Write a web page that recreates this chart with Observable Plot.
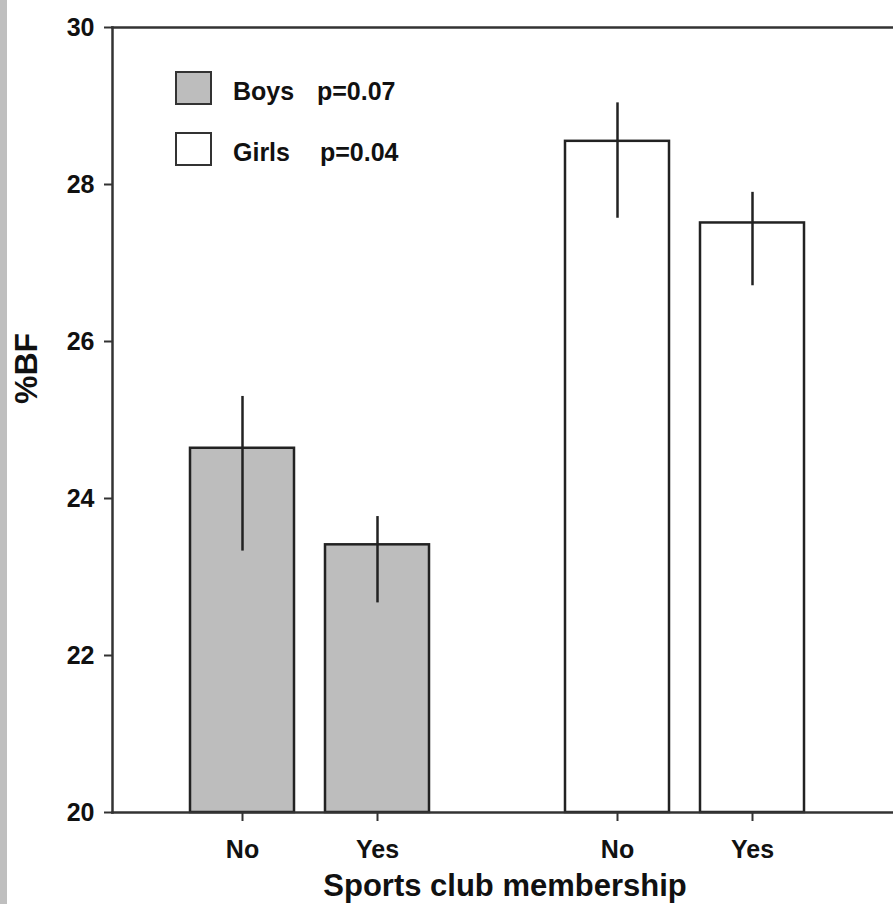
<!DOCTYPE html>
<html><head><meta charset="utf-8">
<script src="https://cdn.jsdelivr.net/npm/d3@7"></script>
<script src="https://cdn.jsdelivr.net/npm/@observablehq/plot@0.6"></script>
<style>
body{margin:0;background:#fff;font-family:"Liberation Sans",Arial,sans-serif;}
#wrap{position:relative;width:893px;height:904px;overflow:hidden;background:#fff;}
#strip{position:absolute;left:0;top:0;width:7px;height:904px;background:#bfbfbf;z-index:4;}
#chart,#overlay{position:absolute;left:0;top:0;}
#overlay{z-index:2;pointer-events:none;}
#legend{position:absolute;left:0;top:0;z-index:3;font-weight:bold;font-size:25px;color:#111;}
.row{position:absolute;left:175px;height:34px;width:300px;}
.sw{position:absolute;left:0;top:0;width:33px;height:30px;border:2px solid #333;}
.nm{position:absolute;left:58px;top:8px;line-height:25px;}
.pv{position:absolute;top:8px;line-height:25px;}
</style></head><body>
<div id="wrap"><div id="strip"></div><div id="chart"></div><div id="overlay"></div><div id="legend"></div></div>
<script>
const sexes = ["Boys", "Girls"];
const membership = ["No", "Yes"];
const means = [[24.64, 23.41], [28.55, 27.51]];
const lows  = [[23.33, 22.67], [27.57, 26.71]];
const highs = [[25.30, 23.77], [29.04, 27.90]];
const pValues = ["p=0.07", "p=0.04"];
const fills = ["#bdbdbd", "#ffffff"];
const yDomain = [20, 30];
const yTicks = [20, 22, 24, 26, 28, 30];
const yTitle = "%BF";
const xTitle = "Sports club membership";

const data = sexes.flatMap((s, i) => membership.map((m, j) => ({
  sex: s, club: m, mean: means[i][j], lo: lows[i][j], hi: highs[i][j]
})));

const ink = "#222";
const font = "'Liberation Sans', Arial, sans-serif";
const dims = {width: 893, height: 904, marginLeft: 112, marginRight: 0, marginTop: 27, marginBottom: 92};

// bars, error bars and category axis (faceted by sex)
const chart = Plot.plot({
  ...dims,
  style: {fontFamily: font, fontSize: "25px", fontWeight: "bold", color: "#111", background: "#fff"},
  fx: {domain: sexes, axis: null, paddingInner: 0, paddingOuter: 0.0386, align: 0},
  x: {domain: membership, paddingInner: 0.228, paddingOuter: 0.4963, align: 0.578, axis: null},
  y: {domain: yDomain, axis: null},
  color: {domain: sexes, range: fills},
  marks: [
    Plot.barY(data, {fx: "sex", x: "club", y1: yDomain[0], y2: "mean", fill: "sex", stroke: ink, strokeWidth: 2.5}),
    Plot.ruleX(data, {fx: "sex", x: "club", y1: "lo", y2: "hi", stroke: ink, strokeWidth: 2.5}),
    Plot.axisX({tickSize: 9, tickPadding: 19, stroke: "#333", strokeWidth: 2, label: null})
  ]
});
document.getElementById("chart").appendChild(chart);

// value axis, frame lines and titles over the full plot area
const overlay = Plot.plot({
  ...dims,
  style: {fontFamily: font, fontSize: "25px", fontWeight: "bold", color: "#111", background: "transparent"},
  y: {domain: yDomain, axis: null},
  marks: [
    Plot.frame({anchor: "left", stroke: "#333", strokeWidth: 2.5}),
    Plot.frame({anchor: "top", stroke: "#333", strokeWidth: 2.5}),
    Plot.frame({anchor: "bottom", stroke: "#333", strokeWidth: 2.5}),
    Plot.axisY({ticks: yTicks, tickSize: 8, tickPadding: 10, stroke: "#333", strokeWidth: 2, label: null}),
    Plot.text([yTitle], {frameAnchor: "left", rotate: -90, lineAnchor: "bottom", dx: -76, dy: -16, fontSize: 32, fill: "#111"}),
    Plot.text([xTitle], {frameAnchor: "bottom", lineAnchor: "bottom", dx: 2, dy: 83, fontSize: 31, fill: "#111"})
  ]
});
document.getElementById("overlay").appendChild(overlay);

const legend = d3.select("#legend");
sexes.forEach((s, i) => {
  const row = legend.append("div").attr("class", "row").style("top", (71 + i * 61) + "px");
  row.append("div").attr("class", "sw").style("background", fills[i]);
  row.append("div").attr("class", "nm").text(s);
  row.append("div").attr("class", "pv").style("left", (142 + i * 3) + "px").text(pValues[i]);
});
</script>
</body></html>
